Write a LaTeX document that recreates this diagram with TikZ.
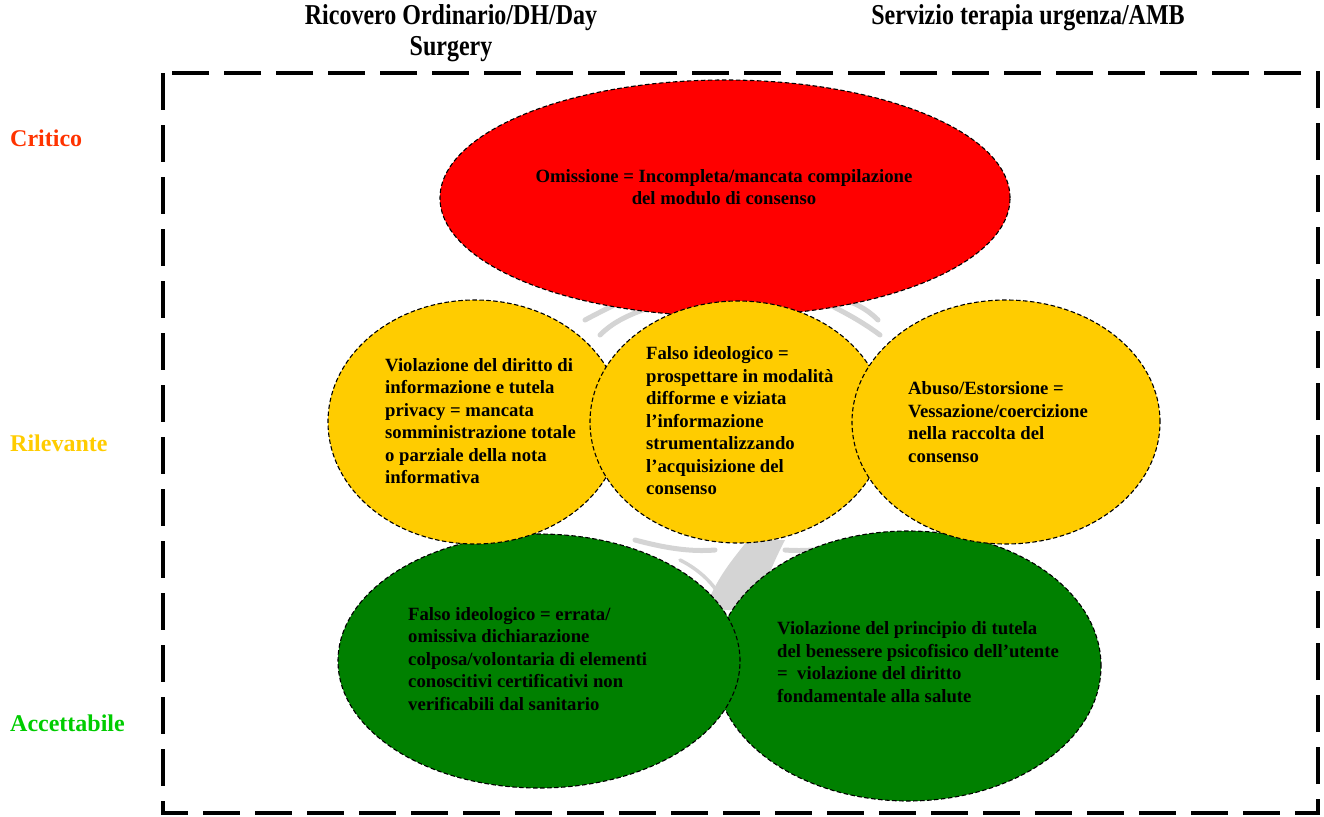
\documentclass[tikz,border=0pt]{standalone}
\usepackage{fontspec}
\setmainfont{Liberation Serif}
\usetikzlibrary{shapes.geometric}

\definecolor{critred}{RGB}{255,0,0}
\definecolor{rilyellow}{RGB}{255,204,0}
\definecolor{accgreen}{RGB}{0,128,0}
\definecolor{lblred}{RGB}{255,51,0}
\definecolor{lblgreen}{RGB}{0,204,0}
\definecolor{treegray}{RGB}{212,212,212}

\tikzset{
  blob/.style={ellipse, draw=black, line width=1.1pt, dash pattern=on 4.5pt off 2.5pt, inner sep=0pt},
  blobtext/.style={font=\bfseries\fontsize{18.7}{22.5}\selectfont, align=left, inner sep=0pt, anchor=west, text=black},
  levellabel/.style={font=\bfseries\fontsize{24}{28}\selectfont, inner sep=0pt, anchor=west},
  header/.style={font=\bfseries\fontsize{24}{29}\selectfont, inner sep=0pt, align=center},
  branch/.style={treegray, line width=5pt, line cap=round, line join=round}
}

\begin{document}
\begin{tikzpicture}[x=1pt, y=-1pt]
\useasboundingbox (0,0) rectangle (1324,816);

% column headers
\node[header] (hdrA) at (451,33) {\scalebox{1}[1.2]{Ricovero Ordinario/DH/Day}\\[2pt]\scalebox{1}[1.2]{Surgery}};
\node[header] (hdrB) at (1028,18) {\scalebox{1}[1.2]{Servizio\ terapia urgenza/AMB}};

% risk level labels
\node[levellabel, text=lblred]    (lvlC) at (10,138) {Critico};
\node[levellabel, text=rilyellow] (lvlR) at (10,443) {Rilevante};
\node[levellabel, text=lblgreen]  (lvlA) at (10,723) {Accettabile};

% dashed frame
\draw[line width=4pt, dash pattern=on 37pt off 15pt] (163,73) rectangle (1318,813);

% faint tree sketch in the background
\draw[branch] (600,335) .. controls (620,315) and (645,310) .. (670,300);
\draw[branch] (585,320) .. controls (600,312) and (612,306) .. (625,300);
\draw[branch] (820,300) .. controls (840,310) and (860,320) .. (880,335);
\draw[branch] (845,300) .. controls (860,305) and (870,312) .. (878,320);
\draw[branch] (635,540) .. controls (665,548) and (690,552) .. (715,550);
\draw[branch] (870,540) .. controls (840,548) and (810,552) .. (785,550);
\fill[treegray] (705,610) .. controls (715,580) and (732,560) .. (748,540)
  -- (785,540) .. controls (772,565) and (764,585) .. (758,610) -- cycle;
\draw[branch, line width=3.5pt] (680,560) .. controls (700,570) and (715,585) .. (722,600);

% green ellipses (acceptable)
\node[blob, fill=accgreen, minimum width=386pt, minimum height=270pt] (gR) at (908,666) {};
\node[blob, fill=accgreen, minimum width=402pt, minimum height=254pt] (gL) at (539,661) {};

% red ellipse (critical)
\node[blob, fill=critred, minimum width=570pt, minimum height=236pt] (red) at (725,198) {};

% yellow ellipses (relevant)
\node[blob, fill=rilyellow, minimum width=294pt, minimum height=244pt] (yL) at (475,422) {};
\node[blob, fill=rilyellow, minimum width=296pt, minimum height=242pt] (yM) at (738,422) {};
\node[blob, fill=rilyellow, minimum width=308pt, minimum height=244pt] (yR) at (1006,422) {};

% texts
\node[blobtext, align=center, anchor=center] (tRed) at (724,187)
  {Omissione = Incompleta/mancata compilazione\\del modulo di consenso};
\node[blobtext] (tYL) at (385,421)
  {Violazione del diritto di\\informazione e tutela\\privacy = mancata\\somministrazione totale\\o parziale della nota\\informativa};
\node[blobtext] (tYM) at (646,421)
  {Falso ideologico =\\prospettare in modalità\\difforme e viziata\\l’informazione\\strumentalizzando\\l’acquisizione del\\consenso};
\node[blobtext] (tYR) at (908,422)
  {Abuso/Estorsione =\\Vessazione/coercizione\\nella raccolta del\\consenso};
\node[blobtext] (tGL) at (408,659)
  {Falso ideologico = errata/\\omissiva dichiarazione\\colposa/volontaria di elementi\\conoscitivi certificativi non\\verificabili dal sanitario};
\node[blobtext] (tGR) at (777,662)
  {Violazione del principio di tutela\\del benessere psicofisico dell’utente\\=\ \ violazione del diritto\\fondamentale alla salute};
\end{tikzpicture}
\end{document}
